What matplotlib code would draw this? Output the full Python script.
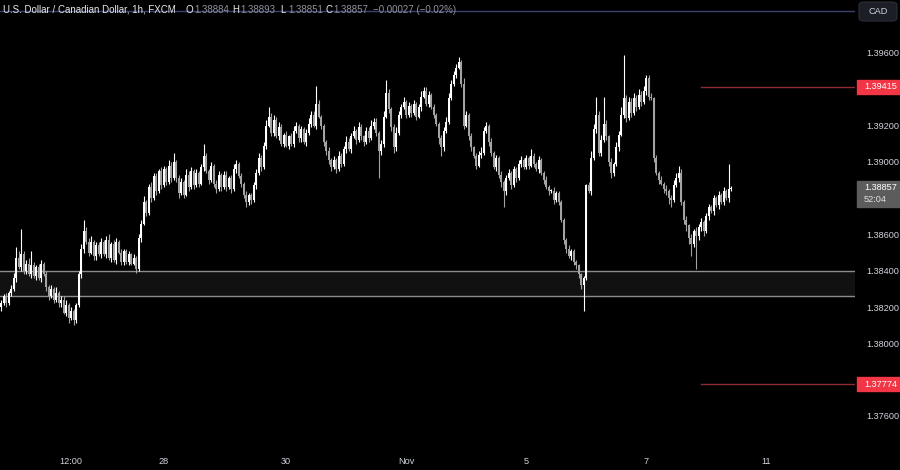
import numpy as np
import matplotlib
matplotlib.use("Agg")
import matplotlib.pyplot as plt
import matplotlib.transforms as mtrans
from matplotlib.patches import Rectangle, FancyBboxPatch

plt.rcParams['font.family'] = ['Liberation Sans', 'DejaVu Sans']

## hourly closes, USD/CAD (FXCM)
closes = [
    1.3822, 1.3826, 1.3822, 1.3828, 1.3830, 1.3836, 1.3847, 1.3842, 1.3849, 1.3840,
    1.3844, 1.3838, 1.3843, 1.3837, 1.3842, 1.3836, 1.3844, 1.3838, 1.3831, 1.3826,
    1.3830, 1.3824, 1.3828, 1.3822, 1.3824, 1.3817, 1.3821, 1.3814, 1.3818, 1.3813,
    1.3821, 1.3838, 1.3852, 1.3862, 1.3856, 1.3850, 1.3856, 1.3848, 1.3854, 1.3849,
    1.3856, 1.3849, 1.3857, 1.3847, 1.3855, 1.3846, 1.3856, 1.3850, 1.3845, 1.3851,
    1.3845, 1.3849, 1.3844, 1.3847, 1.3841, 1.3858, 1.3866, 1.3878, 1.3872, 1.3886,
    1.3880, 1.3892, 1.3884, 1.3895, 1.3887, 1.3896, 1.3889, 1.3898, 1.3891, 1.3900,
    1.3891, 1.3883, 1.3889, 1.3882, 1.3893, 1.3886, 1.3895, 1.3887, 1.3894, 1.3888,
    1.3897, 1.3903, 1.3895, 1.3890, 1.3898, 1.3888, 1.3885, 1.3893, 1.3886, 1.3893,
    1.3886, 1.3891, 1.3885, 1.3896, 1.3899, 1.3892, 1.3888, 1.3882, 1.3878, 1.3882,
    1.3879, 1.3887, 1.3894, 1.3902, 1.3897, 1.3909, 1.3920, 1.3925, 1.3916, 1.3923,
    1.3914, 1.3919, 1.3910, 1.3915, 1.3909, 1.3914, 1.3910, 1.3917, 1.3920, 1.3913,
    1.3918, 1.3911, 1.3916, 1.3921, 1.3926, 1.3920, 1.3932, 1.3925, 1.3920, 1.3911,
    1.3906, 1.3901, 1.3897, 1.3901, 1.3896, 1.3903, 1.3899, 1.3907, 1.3911, 1.3907,
    1.3914, 1.3917, 1.3912, 1.3919, 1.3914, 1.3911, 1.3917, 1.3913, 1.3920, 1.3922,
    1.3916, 1.3906, 1.3910, 1.3925, 1.3938, 1.3929, 1.3919, 1.3908, 1.3916, 1.3926,
    1.3930, 1.3933, 1.3926, 1.3931, 1.3927, 1.3932, 1.3925, 1.3930, 1.3936, 1.3939,
    1.3932, 1.3937, 1.3930, 1.3926, 1.3921, 1.3913, 1.3908, 1.3917, 1.3922, 1.3935,
    1.3943, 1.3948, 1.3952, 1.3955, 1.3943, 1.3920, 1.3926, 1.3914, 1.3908, 1.3903,
    1.3898, 1.3904, 1.3905, 1.3917, 1.3920, 1.3911, 1.3905, 1.3897, 1.3902, 1.3893,
    1.3889, 1.3884, 1.3891, 1.3894, 1.3887, 1.3896, 1.3891, 1.3899, 1.3901, 1.3897,
    1.3902, 1.3898, 1.3903, 1.3899, 1.3896, 1.3901, 1.3894, 1.3890, 1.3886, 1.3884,
    1.3884, 1.3879, 1.3883, 1.3878, 1.3868, 1.3857, 1.3852, 1.3848, 1.3851, 1.3845,
    1.3843, 1.3838, 1.3832, 1.3836, 1.3887, 1.3884, 1.3902, 1.3918, 1.3926, 1.3905,
    1.3912, 1.3921, 1.3914, 1.3900, 1.3894, 1.3899, 1.3908, 1.3915, 1.3926, 1.3935,
    1.3924, 1.3933, 1.3927, 1.3935, 1.3930, 1.3937, 1.3933, 1.3939, 1.3946, 1.3936,
    1.3935, 1.3902, 1.3894, 1.3890, 1.3888, 1.3885, 1.3884, 1.3880, 1.3879, 1.3887,
    1.3891, 1.3894, 1.3878, 1.3868, 1.3865, 1.3858, 1.3855, 1.3862, 1.3859, 1.3864,
    1.3867, 1.3862, 1.3870, 1.3875, 1.3873, 1.3880, 1.3876, 1.3882, 1.3878, 1.3884,
    1.3880, 1.3885, 1.38857,
]
first_open = 1.3820

## wick lengths above / below the body, in pips
upper_wick = [
    2, 1, 2, 1, 2, 3, 6, 4, 14, 2,
    2, 3, 8, 2, 1, 2, 2, 1, 2, 1,
    2, 1, 3, 1, 2, 2, 3, 1, 2, 1,
    1, 2, 3, 6, 2, 2, 3, 1, 2, 2,
    2, 1, 2, 3, 1, 2, 2, 1, 2, 1,
    1, 2, 1, 2, 1, 2, 2, 3, 1, 2,
    3, 2, 2, 1, 2, 2, 1, 3, 2, 5,
    1, 2, 2, 1, 3, 2, 2, 1, 2, 1,
    2, 7, 2, 1, 2, 1, 2, 2, 1, 2,
    2, 1, 2, 3, 2, 1, 2, 1, 2, 1,
    1, 2, 2, 3, 2, 2, 3, 5, 2, 3,
    2, 3, 2, 1, 2, 1, 2, 3, 2, 1,
    2, 1, 2, 3, 2, 2, 10, 2, 1, 1,
    1, 2, 1, 2, 1, 3, 2, 2, 3, 2,
    2, 3, 1, 3, 2, 1, 2, 2, 3, 2,
    2, 1, 2, 3, 7, 2, 1, 2, 3, 2,
    2, 3, 1, 2, 1, 2, 1, 2, 3, 2,
    2, 2, 1, 2, 1, 1, 2, 2, 3, 3,
    2, 2, 2, 3, 1, 3, 2, 1, 2, 1,
    2, 2, 3, 2, 2, 1, 2, 1, 2, 1,
    2, 1, 2, 2, 1, 2, 1, 2, 2, 1,
    2, 1, 4, 2, 1, 2, 1, 1, 2, 1,
    1, 2, 1, 1, 1, 1, 1, 2, 1, 1,
    1, 1, 1, 1, 1, 2, 4, 3, 10, 2,
    3, 15, 2, 1, 2, 1, 3, 2, 4, 24,
    2, 3, 2, 3, 2, 3, 2, 3, 2, 2,
    2, 1, 2, 1, 2, 1, 2, 1, 2, 3,
    3, 4, 2, 1, 2, 1, 2, 1, 2, 2,
    2, 1, 2, 2, 1, 2, 1, 2, 1, 2, 1, 14, 1,
]
lower_wick = [
    2, 1, 2, 1, 2, 1, 2, 1, 2, 2,
    2, 1, 2, 1, 2, 1, 2, 1, 2, 2,
    1, 2, 1, 2, 2, 1, 2, 3, 1, 3,
    2, 1, 2, 2, 1, 2, 1, 2, 2, 1,
    2, 1, 2, 1, 2, 1, 2, 1, 2, 2,
    1, 2, 1, 1, 2, 1, 2, 1, 2, 1,
    2, 1, 2, 1, 2, 1, 2, 1, 2, 1,
    2, 3, 1, 2, 1, 2, 1, 2, 1, 2,
    1, 2, 1, 2, 1, 2, 2, 1, 2, 1,
    2, 1, 2, 1, 2, 1, 2, 2, 3, 2,
    2, 1, 2, 1, 2, 1, 2, 1, 2, 2,
    1, 2, 1, 2, 1, 2, 1, 2, 1, 2,
    2, 1, 2, 1, 2, 1, 2, 1, 2, 2,
    2, 2, 2, 1, 2, 1, 2, 1, 2, 1,
    2, 1, 2, 1, 2, 2, 1, 2, 1, 2,
    2, 15, 2, 2, 1, 2, 2, 3, 2, 1,
    2, 1, 2, 1, 2, 1, 2, 1, 2, 1,
    1, 2, 1, 2, 1, 3, 5, 2, 1, 1,
    1, 1, 2, 1, 2, 2, 1, 2, 2, 1,
    2, 1, 2, 1, 1, 2, 2, 1, 2, 2,
    3, 9, 2, 1, 2, 1, 2, 1, 2, 1,
    1, 2, 1, 2, 1, 2, 1, 2, 1, 2,
    1, 2, 1, 2, 1, 2, 2, 1, 2, 2,
    2, 2, 2, 14, 1, 1, 2, 1, 2, 2,
    2, 1, 2, 2, 3, 2, 1, 2, 1, 2,
    2, 1, 2, 1, 2, 1, 2, 1, 2, 2,
    1, 2, 1, 2, 1, 2, 2, 3, 4, 1,
    1, 2, 2, 2, 3, 3, 7, 2, 18, 2,
    2, 3, 1, 2, 1, 2, 1, 2, 1, 2, 1, 2, 1,
]

## x axis labels and the candle they sit under
tick_pos = [28, 65, 114, 162, 210, 258, 306]
tick_lab = ["12:00", "28", "30", "Nov", "5", "7", "11"]
price_ticks = [1.396, 1.392, 1.390, 1.386, 1.384, 1.382, 1.380, 1.378, 1.376]

zone = (1.3826, 1.3840)
levels = [1.39415, 1.37774]
last_price = 1.38857

closes = np.array(closes)
opens = np.concatenate([[first_open], closes[:-1]])
highs = np.maximum(opens, closes) + np.array(upper_wick) * 1e-4
lows = np.minimum(opens, closes) - np.array(lower_wick) * 1e-4
idx = np.arange(len(closes))

BG = "#000000"
TXT = "#d1d4dc"
UP = "#ffffff"
DN = "#a3a3a3"
RED = "#f23645"
FS = 6.6

fig = plt.figure(figsize=(9, 4.7), dpi=100, facecolor=BG)
ax = fig.add_axes([0, 25 / 470, 855 / 900, 445 / 470])
ax.set_facecolor(BG)
ax.set_xlim(-0.5, 341.5)
ax.set_ylim(1.374401, 1.398920)

# support zone
ax.axhspan(zone[0], zone[1], color="#111111", zorder=1)
ax.axhline(zone[0], color="#8c8c8c", lw=1, zorder=1.5)
ax.axhline(zone[1], color="#8c8c8c", lw=1, zorder=1.5)

# candles
col = np.where(closes >= opens, UP, DN)
ax.vlines(idx, lows, highs, colors=col, lw=0.8, zorder=3)
body = np.maximum(np.abs(closes - opens), 0.00003)
ax.bar(idx, body, bottom=np.minimum(opens, closes), width=0.72,
       color=col, linewidth=0, zorder=4)

# key levels
for lv in levels:
    ax.plot([280, 341.5], [lv, lv], color="#8e2a33", lw=1, zorder=2)

# top separator
ax.plot([0, 1], [1 - 11 / 445, 1 - 11 / 445], transform=ax.transAxes,
        color="#3d4170", lw=1, zorder=2)

for s in ax.spines.values():
    s.set_visible(False)

ax.yaxis.tick_right()
ax.set_yticks(price_ticks)
ax.set_yticklabels(["%.5f" % p for p in price_ticks])
ax.tick_params(axis="y", length=0, pad=8, labelsize=FS, labelcolor=TXT)
ax.set_xticks(tick_pos)
ax.set_xticklabels(tick_lab)
ax.tick_params(axis="x", length=0, pad=9, labelsize=FS, labelcolor=TXT)

# price tags on the right scale
tr = mtrans.blended_transform_factory(fig.transFigure, ax.transData)
px = 0.0000551
for lv in levels:
    ax.add_patch(Rectangle((857 / 900, lv - 7 * px), 43 / 900, 14 * px,
                           transform=tr, color=RED, clip_on=False, zorder=6))
    ax.text(864 / 900, lv, "%.5f" % lv, transform=tr, color="white",
            fontsize=FS, va="center", ha="left", clip_on=False, zorder=7)

ax.add_patch(Rectangle((857 / 900, last_price - 19 * px), 43 / 900, 26 * px,
                       transform=tr, color="#5c5c5c", clip_on=False, zorder=6))
ax.text(864 / 900, last_price, "%.5f" % last_price, transform=tr, color="white",
        fontsize=FS, va="center", ha="left", clip_on=False, zorder=7)
ax.text(864 / 900, last_price - 12 * px, "52:04", transform=tr, color="#e0e0e0",
        fontsize=FS, va="center", ha="left", clip_on=False, zorder=7)

# currency button
fig.patches.append(FancyBboxPatch((859 / 900, 1 - 21 / 470), 38 / 900, 19 / 470,
                                  boxstyle="round,pad=0,rounding_size=0.006",
                                  transform=fig.transFigure, facecolor="#1b1e25",
                                  edgecolor="#2c2f38", lw=0.8))
fig.text(878 / 900, 1 - 11 / 470, "CAD", color=TXT, fontsize=FS,
         ha="center", va="center")

# header legend
hy = 1 - 10 / 470
HF = 7.0
fig.text(3 / 900, hy, "U.S. Dollar / Canadian Dollar, 1h, FXCM", color="#e8e8e8",
         fontsize=HF, va="center")
ohlc = [("O", "1.38884", 186), ("H", "1.38893", 232), ("L", "1.38851", 280),
        ("C", "1.38857", 325)]
for k, v, xp in ohlc:
    fig.text(xp / 900, hy, k, color="#e8e8e8", fontsize=HF, va="center")
    fig.text((xp + 8) / 900, hy, v, color="#8f929b", fontsize=HF, va="center")
fig.text(373 / 900, hy, "\u22120.00027 (\u22120.02%)", color="#8f929b",
         fontsize=HF, va="center")

fig.savefig("out.png", dpi=100, facecolor=BG)
